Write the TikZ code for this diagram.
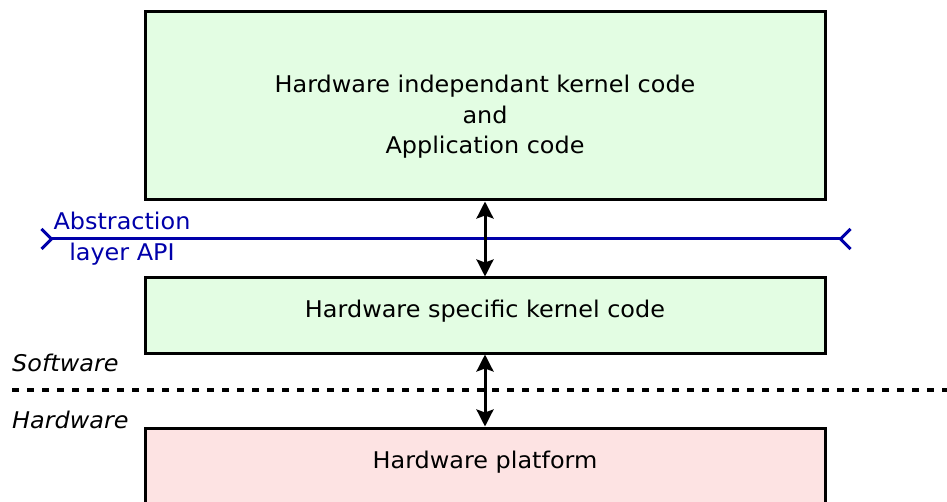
\documentclass[tikz,border=0pt]{standalone}
\usepackage{fontspec}
\setmainfont{DejaVu Sans}[FakeStretch=1.04]
\usetikzlibrary{arrows.meta, calc, positioning}
\definecolor{softgreen}{RGB}{227,253,227}
\definecolor{hardred}{RGB}{253,227,227}
\definecolor{apiblue}{RGB}{0,0,170}
\tikzstyle{layer} = [rectangle, line width=3pt, minimum width=680pt, text centered, align=center, draw=black, font=\fontsize{23pt}{30.5pt}\selectfont]
\tikzstyle{caption} = [inner sep=0pt, font=\fontsize{23pt}{30.5pt}\selectfont\itshape]
\tikzstyle{arrow} = [line width=3pt, {Stealth[length=17pt,width=17pt,inset=3pt]}-{Stealth[length=17pt,width=17pt,inset=3pt]}]
\tikzstyle{api} = [line width=3pt, draw=apiblue, {Straight Barb[reversed,length=10pt,width=20pt]}-{Straight Barb[reversed,length=10pt,width=20pt]}]
\tikzstyle{border} = [line width=3.5pt, dash pattern=on 7pt off 8pt]
\begin{document}
\begin{tikzpicture}[node distance = 75pt, x=1pt, y=1pt]
	\useasboundingbox (0,0) rectangle (947,-502);
	\node (Kernel) [layer, fill=softgreen, minimum height=188pt, text height=101pt, text depth=5pt] at (485,-106) {Hardware independant kernel code\\and\\Application code};
	\node (Specific) [layer, fill=softgreen, minimum height=75pt, text height=16pt, text depth=12pt, below = of Kernel] {Hardware specific kernel code};
	\node (Platform) [layer, fill=hardred, minimum height=90pt, text height=16pt, text depth=26pt, below = 72pt of Specific] {Hardware platform};
	\coordinate (ApiLeft) at (40,-239);
	\coordinate (ApiRight) at (852,-239);
	\node (ApiLabel) [align=center, text=apiblue, inner sep=0pt, font=\fontsize{23pt}{31pt}\selectfont] at (122,-239) {Abstraction\\layer API};
	\coordinate (SplitLeft) at (12,-390);
	\coordinate (SplitRight) at (947,-390);
	\node (Software) [caption, anchor=west] at ($(SplitLeft)+(0,27)$) {Software};
	\node (Hardware) [caption, anchor=west] at ($(SplitLeft)+(0,-30)$) {Hardware};
	\draw [api] (ApiLeft) -- (ApiRight);
	\draw [border] (SplitLeft) -- (SplitRight);
	\draw [arrow] (Kernel) -- (Specific);
	\draw [arrow] (Specific) -- (Platform);
\end{tikzpicture}
\end{document}
